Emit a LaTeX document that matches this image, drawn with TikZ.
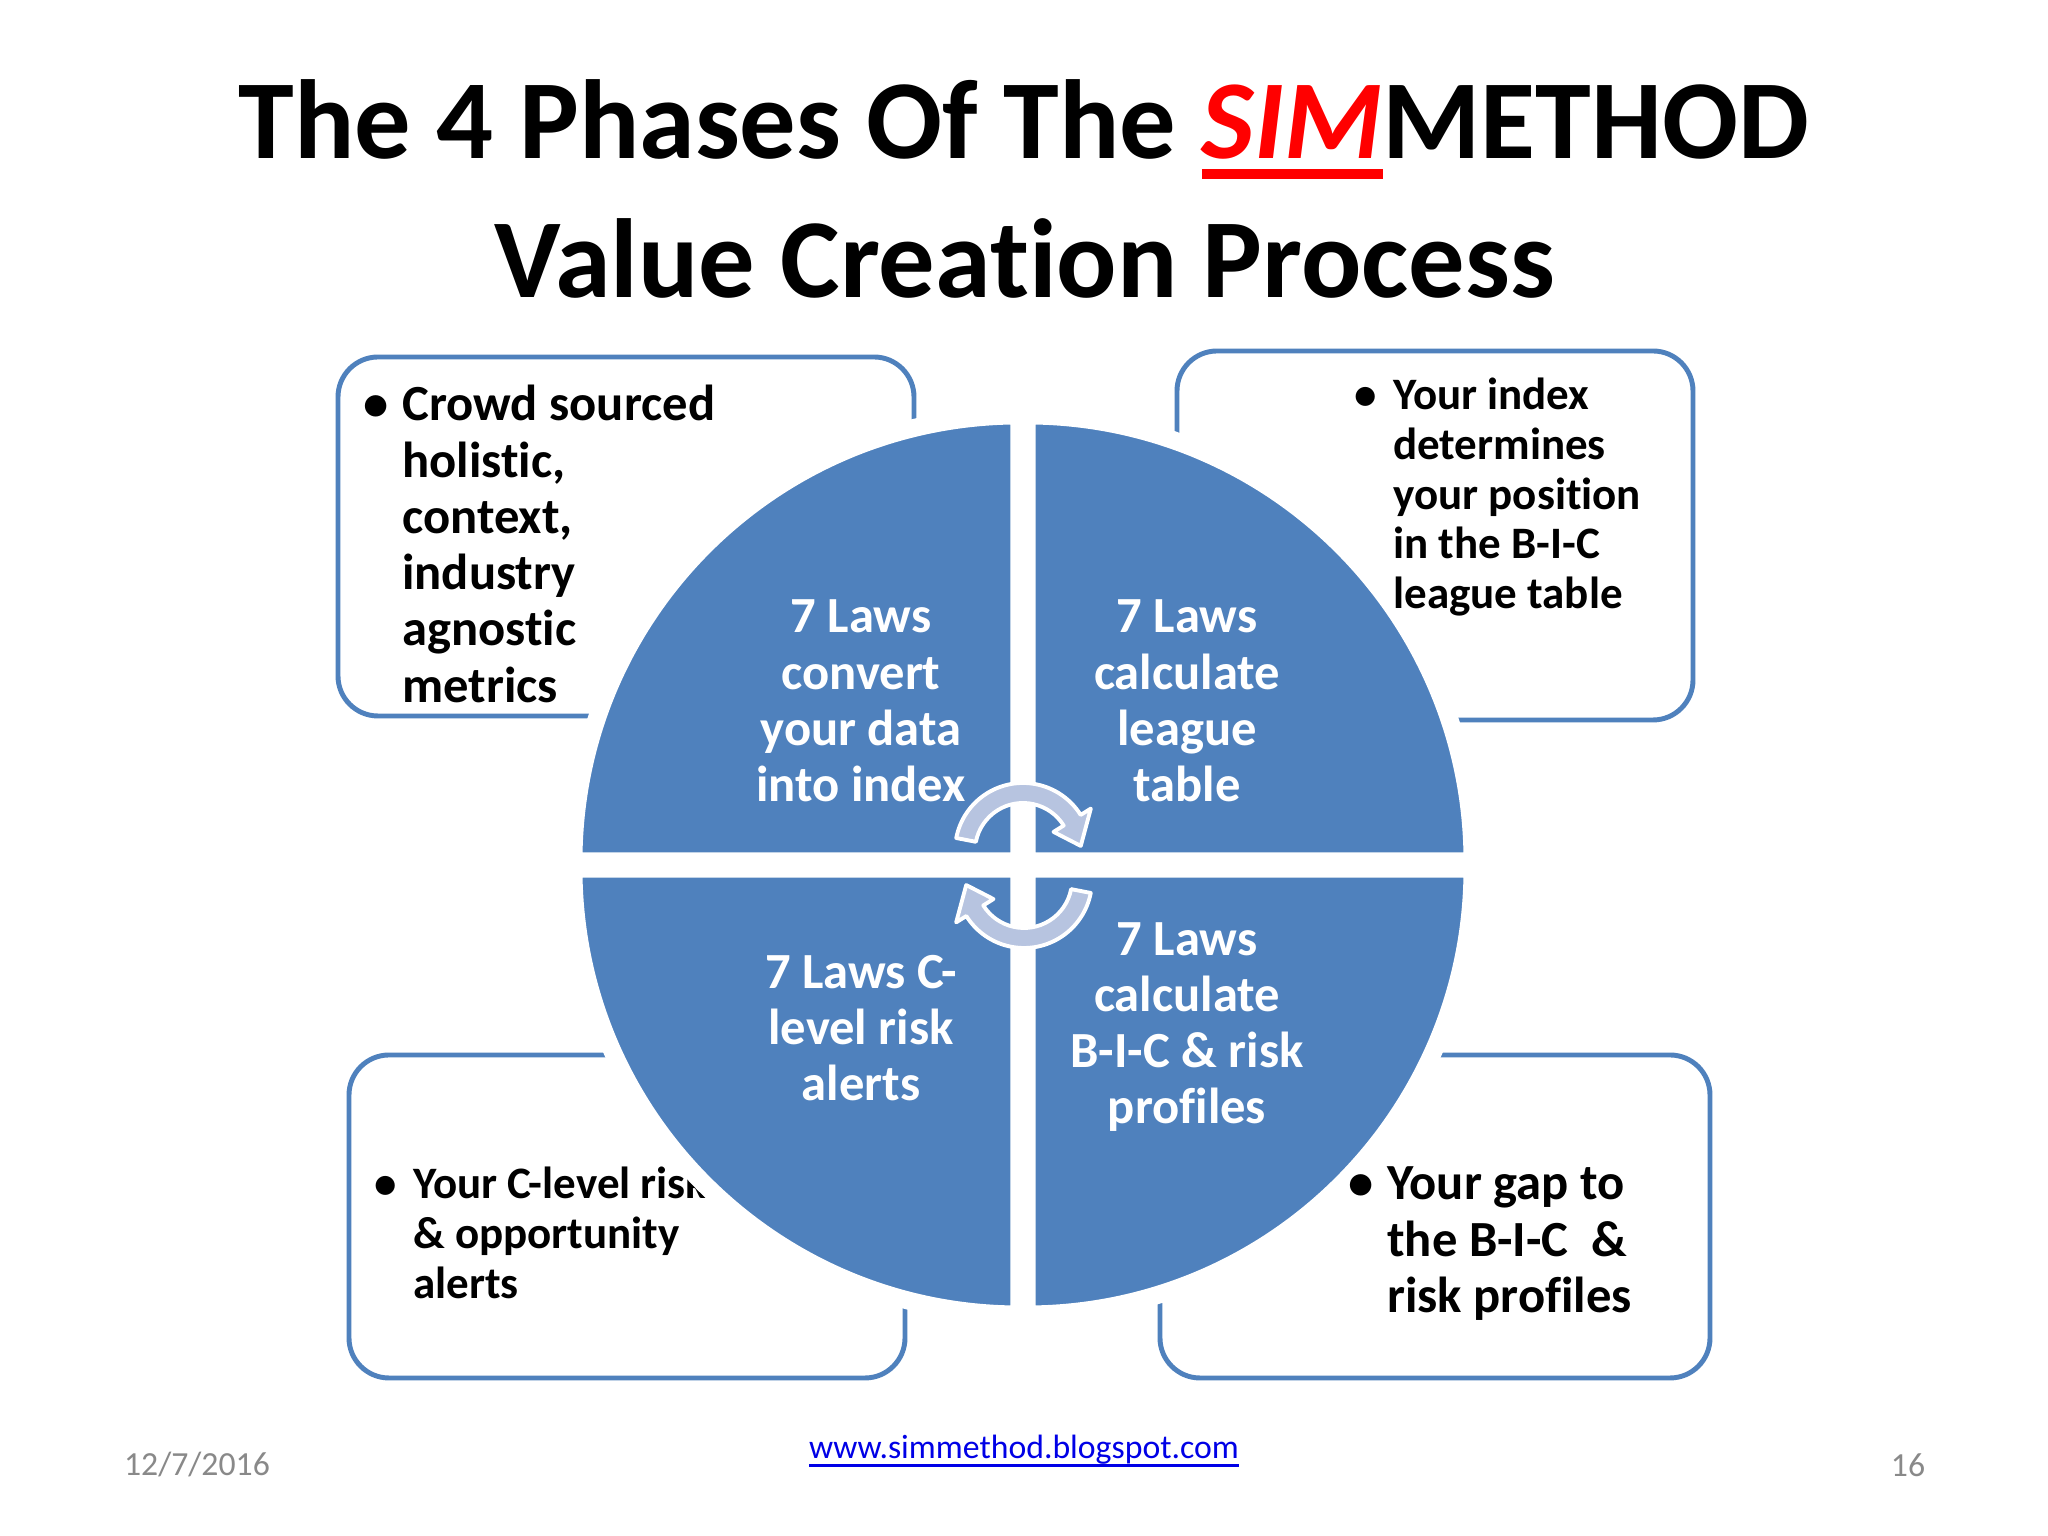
\documentclass[tikz,border=0pt]{standalone}
\usepackage{fontspec}
\setmainfont{Carlito}[Ligatures=NoCommon]
\usetikzlibrary{calc}

\definecolor{simblue}{RGB}{79,129,189}
\definecolor{arrowfill}{RGB}{183,196,224}
\definecolor{footgray}{RGB}{137,137,137}
\definecolor{linkblue}{RGB}{0,0,230}

\newcommand{\bultext}[1]{\makebox[11pt][l]{\textbullet}\begin{tabular}[t]{@{}l@{}}#1\end{tabular}}
\newcommand{\simline}[1]{\setbox0\hbox{#1}\rlap{\rule[-5.6pt]{\wd0}{2.8pt}}\box0}
\newcommand{\linkline}[1]{\setbox0\hbox{#1}\rlap{\rule[-2.2pt]{\wd0}{0.8pt}}\box0}

\tikzset{
  quad/.style={fill=simblue, draw=white, line width=0.18cm},
  infobox/.style={draw=simblue, line width=1.4pt, rounded corners=0.4cm},
  bigtext/.style={font=\bfseries\fontsize{14.4}{16}\selectfont, inner sep=0pt, anchor=base west},
  smalltext/.style={font=\bfseries\fontsize{12.8}{14.1}\selectfont, inner sep=0pt, anchor=base west},
  quadtext/.style={text=white, font=\bfseries\fontsize{14.4}{16}\selectfont, align=center, inner sep=0pt},
  titletext/.style={font=\bfseries\fontsize{32}{39.5}\selectfont, inner sep=0pt, anchor=base},
  foot/.style={font=\fontsize{9.6}{11}\selectfont, inner sep=0pt},
  circarrow/.style={fill=arrowfill, draw=white, line width=1.1pt, line join=round}
}

\begin{document}
\begin{tikzpicture}
  \fill[white] (0,0) rectangle (20.48,15.36);
  \useasboundingbox (0,0) rectangle (20.48,15.36);

  \draw (10.24,13.77) node[titletext] (title1) {The 4 Phases Of The \textcolor{red}{\simline{\itshape SIM}}METHOD};
  \draw (10.25,12.38) node[titletext] (title2) {Value Creation Process};

  \draw[infobox] (3.38,11.79) rectangle (9.14,8.20);
  \draw[infobox] (11.77,11.85) rectangle (16.93,8.16);
  \draw[infobox] (3.49,4.81) rectangle (9.05,1.58);
  \draw[infobox] (11.60,4.81) rectangle (17.10,1.58);

  \draw (3.63,11.15) node[bigtext] (crowd) {\bultext{Crowd sourced\\holistic,\\context,\\industry\\agnostic\\metrics}};
  \draw (3.74,3.37) node[smalltext] (alerts) {\bultext{Your C-level risk\\\& opportunity\\alerts}};

  \coordinate (c) at (10.23,6.71);
  \foreach \a in {0,90,180,270}
    \filldraw[quad] ($(c)+(\a+45:0.05)$) -- ++(\a:4.46) arc[start angle=\a, end angle=\a+90, radius=4.46] -- cycle;

  \coordinate (a1) at (10.23,6.85);
  \coordinate (a2) at (10.24,6.56);
  \foreach \c/\r in {a1/0,a2/180}
    \filldraw[circarrow] ($(\c)+(169+\r:0.68)$) arc[start angle=169+\r, end angle=32+\r, radius=0.68]
      -- ($(\c)+(32+\r:0.80)$) -- ($(\c)+(5+\r:0.58)$) -- ($(\c)+(32+\r:0.36)$)
      -- ($(\c)+(32+\r:0.48)$) arc[start angle=32+\r, end angle=169+\r, radius=0.48] -- cycle;

  \draw (8.61,8.35) node[quadtext] (q1) {7 Laws\\convert\\your data\\into index};
  \draw (11.87,8.35) node[quadtext] (q2) {7 Laws\\calculate\\league\\table};
  \draw (8.61,5.08) node[quadtext] (q3) {7 Laws C-\\level risk\\alerts};
  \draw (11.87,5.09) node[quadtext] (q4) {7 Laws\\calculate\\B-I-C \& risk\\profiles};

  \draw (13.54,11.26) node[smalltext] (index) {\bultext{Your index\\determines\\your position\\in the B-I-C\\league table}};
  \draw (13.48,3.36) node[bigtext] (gap) {\bultext{Your gap to\\the B-I-C~~\&\\risk profiles}};

  \draw (1.97,0.71) node[foot, text=footgray] (date) {12/7/2016};
  \draw (10.24,0.85) node[foot, text=linkblue] (url) {\linkline{www.simmethod.blogspot.com}};
  \draw (19.08,0.71) node[foot, text=footgray] (page) {16};
\end{tikzpicture}
\end{document}
